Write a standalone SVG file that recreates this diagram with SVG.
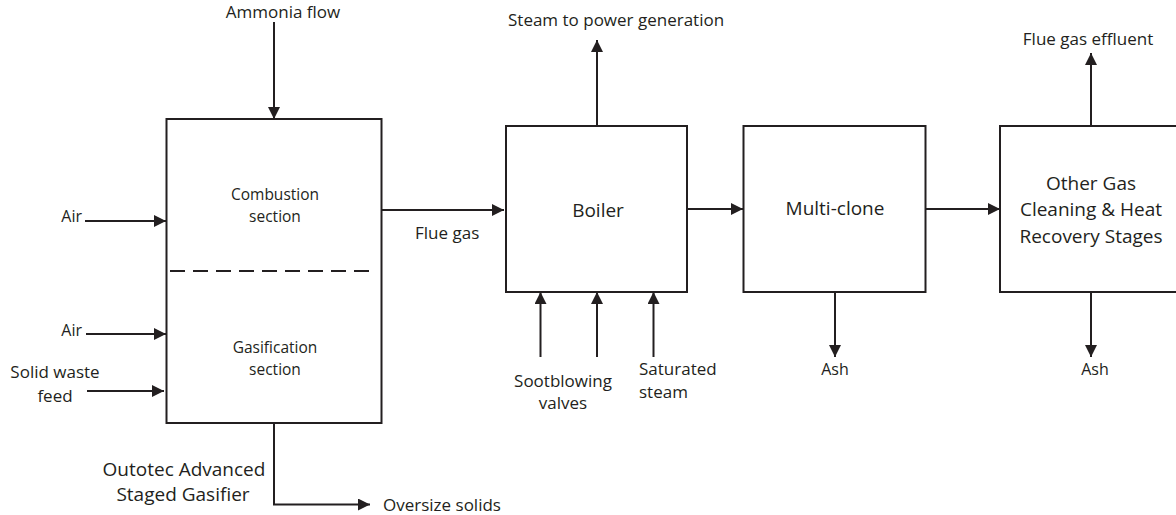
<svg xmlns="http://www.w3.org/2000/svg" width="1176" height="515" viewBox="0 0 1176 515">
<style>
.box{fill:#fff;stroke:#231f20;stroke-width:2}
.ln{fill:none;stroke:#231f20;stroke-width:2}
text{font-family:"Open Sans","DejaVu Sans",sans-serif;fill:#231f20}
.m{text-anchor:middle}
.e{text-anchor:end}
</style>
<defs>
<marker id="ah" markerUnits="userSpaceOnUse" markerWidth="13" markerHeight="13" refX="12" refY="6" orient="auto">
<path d="M0,0 L12,6 L0,12 z" fill="#231f20"/>
</marker>
</defs>
<rect width="1176" height="515" fill="#fff"/>
<g id="connectors">
<line class="ln" x1="274" y1="22" x2="274" y2="119" marker-end="url(#ah)"/>
<line class="ln" x1="85" y1="221" x2="166" y2="221" marker-end="url(#ah)"/>
<line class="ln" x1="86" y1="334" x2="166" y2="334" marker-end="url(#ah)"/>
<line class="ln" x1="87" y1="391" x2="164" y2="391" marker-end="url(#ah)"/>
<polyline class="ln" points="274,423 274,504.5 370,504.5" marker-end="url(#ah)"/>
<line class="ln" x1="381" y1="210" x2="504" y2="210" marker-end="url(#ah)"/>
<line class="ln" x1="597" y1="126" x2="597" y2="40" marker-end="url(#ah)"/>
<line class="ln" x1="540.5" y1="357" x2="540.5" y2="292" marker-end="url(#ah)"/>
<line class="ln" x1="597" y1="357" x2="597" y2="292" marker-end="url(#ah)"/>
<line class="ln" x1="653.5" y1="357" x2="653.5" y2="292" marker-end="url(#ah)"/>
<line class="ln" x1="687" y1="209" x2="743" y2="209" marker-end="url(#ah)"/>
<line class="ln" x1="835" y1="292" x2="835" y2="357" marker-end="url(#ah)"/>
<line class="ln" x1="925" y1="209" x2="1000" y2="209" marker-end="url(#ah)"/>
<line class="ln" x1="1091" y1="126" x2="1091" y2="53" marker-end="url(#ah)"/>
<line class="ln" x1="1091" y1="292" x2="1091" y2="357" marker-end="url(#ah)"/>
</g>
<g id="gasifier">
<rect class="box" x="166.5" y="119" width="215" height="304"/>
<line class="ln" x1="170" y1="271" x2="376" y2="271" stroke-dasharray="15 8"/>
<text class="m" x="275" y="200" font-size="15.5">Combustion</text>
<text class="m" x="275" y="222" font-size="15.5">section</text>
<text class="m" x="275" y="353" font-size="15.5">Gasification</text>
<text class="m" x="275" y="375" font-size="15.5">section</text>
<text class="m" x="184" y="476" font-size="19">Outotec Advanced</text>
<text class="m" x="183" y="501" font-size="19">Staged Gasifier</text>
</g>
<g id="boiler">
<rect class="box" x="506" y="126" width="181" height="166"/>
<text class="m" x="598" y="217" font-size="19">Boiler</text>
</g>
<g id="multiclone">
<rect class="box" x="743.5" y="126" width="182" height="166"/>
<text class="m" x="835" y="215" font-size="19">Multi-clone</text>
</g>
<g id="other">
<rect class="box" x="1000" y="126" width="190" height="166"/>
<text class="m" x="1091" y="190" font-size="19">Other Gas</text>
<text class="m" x="1091" y="216" font-size="19">Cleaning &amp; Heat</text>
<text class="m" x="1091" y="243" font-size="19">Recovery Stages</text>
</g>
<g id="labels">
<text class="m" x="283" y="18" font-size="17">Ammonia flow</text>
<text class="e" x="82" y="222" font-size="16">Air</text>
<text class="e" x="82" y="336" font-size="16">Air</text>
<text class="m" x="55" y="378" font-size="17">Solid waste</text>
<text class="m" x="55" y="402" font-size="17">feed</text>
<text x="383" y="511" font-size="17">Oversize solids</text>
<text x="415" y="239" font-size="17">Flue gas</text>
<text x="508" y="26" font-size="17">Steam to power generation</text>
<text class="m" x="563" y="387" font-size="17">Sootblowing</text>
<text class="m" x="563" y="409" font-size="17">valves</text>
<text x="639" y="375" font-size="17">Saturated</text>
<text x="639" y="398" font-size="17">steam</text>
<text class="m" x="835" y="375" font-size="16">Ash</text>
<text class="m" x="1088" y="45" font-size="17">Flue gas effluent</text>
<text class="m" x="1095" y="375" font-size="16">Ash</text>
</g>
</svg>
